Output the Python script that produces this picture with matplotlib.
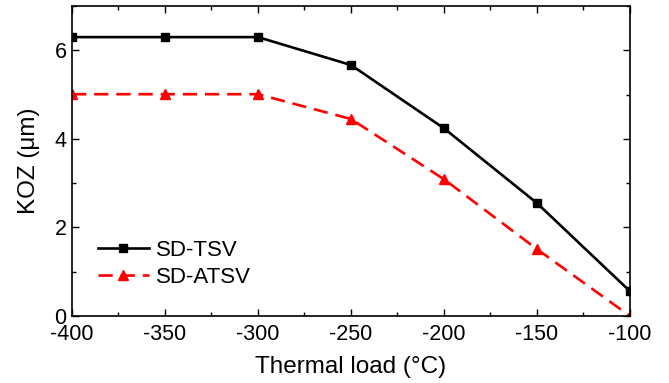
import matplotlib
matplotlib.use("Agg")
import matplotlib.pyplot as plt
from matplotlib.ticker import MultipleLocator

plt.rcParams.update({
    "font.family": ["Liberation Sans", "DejaVu Sans"],
    "font.size": 15.5,
    "axes.unicode_minus": False,
    "xtick.direction": "in",
    "ytick.direction": "in",
    "xtick.top": True,
    "ytick.right": True,
})

thermal_load = [-400, -350, -300, -250, -200, -150, -100]
koz_tsv = [6.30, 6.30, 6.30, 5.67, 4.24, 2.55, 0.56]
koz_atsv = [5.01, 5.01, 5.01, 4.45, 3.09, 1.51, 0.0]

fig = plt.figure(figsize=(6.69, 3.83), dpi=100)
ax = fig.add_axes([0.1076, 0.175, 0.834, 0.809])

ax.plot(thermal_load, koz_tsv, color="black", linewidth=1.9, marker="s",
        markersize=6, label="SD-TSV")
ax.plot(thermal_load, koz_atsv, color="red", linewidth=1.9, linestyle=(0, (5.4, 3.0)),
        marker="^", markersize=7.5, label="SD-ATSV")

ax.set_xlim(-400, -100)
ax.set_ylim(0, 7)
ax.xaxis.set_major_locator(MultipleLocator(50))
ax.xaxis.set_minor_locator(MultipleLocator(25))
ax.yaxis.set_major_locator(MultipleLocator(2))
ax.yaxis.set_minor_locator(MultipleLocator(1))
ax.tick_params(which="major", length=5, width=1)
ax.tick_params(which="minor", length=3, width=1, top=True, right=True)
ax.tick_params(axis="x", pad=6)
ax.tick_params(axis="y", pad=4)
for s in ax.spines.values():
    s.set_linewidth(1.2)

ax.set_xlabel("Thermal load (°C)", fontsize=17.5, labelpad=8)
ax.set_ylabel("KOZ (μm)", fontsize=17.5, labelpad=10)

ax.legend(loc="lower left", bbox_to_anchor=(0.01, 0.025), frameon=False,
          fontsize=16, handlelength=2.3, handletextpad=0.35, labelspacing=0.3)

fig.savefig("out.png", dpi=100)
